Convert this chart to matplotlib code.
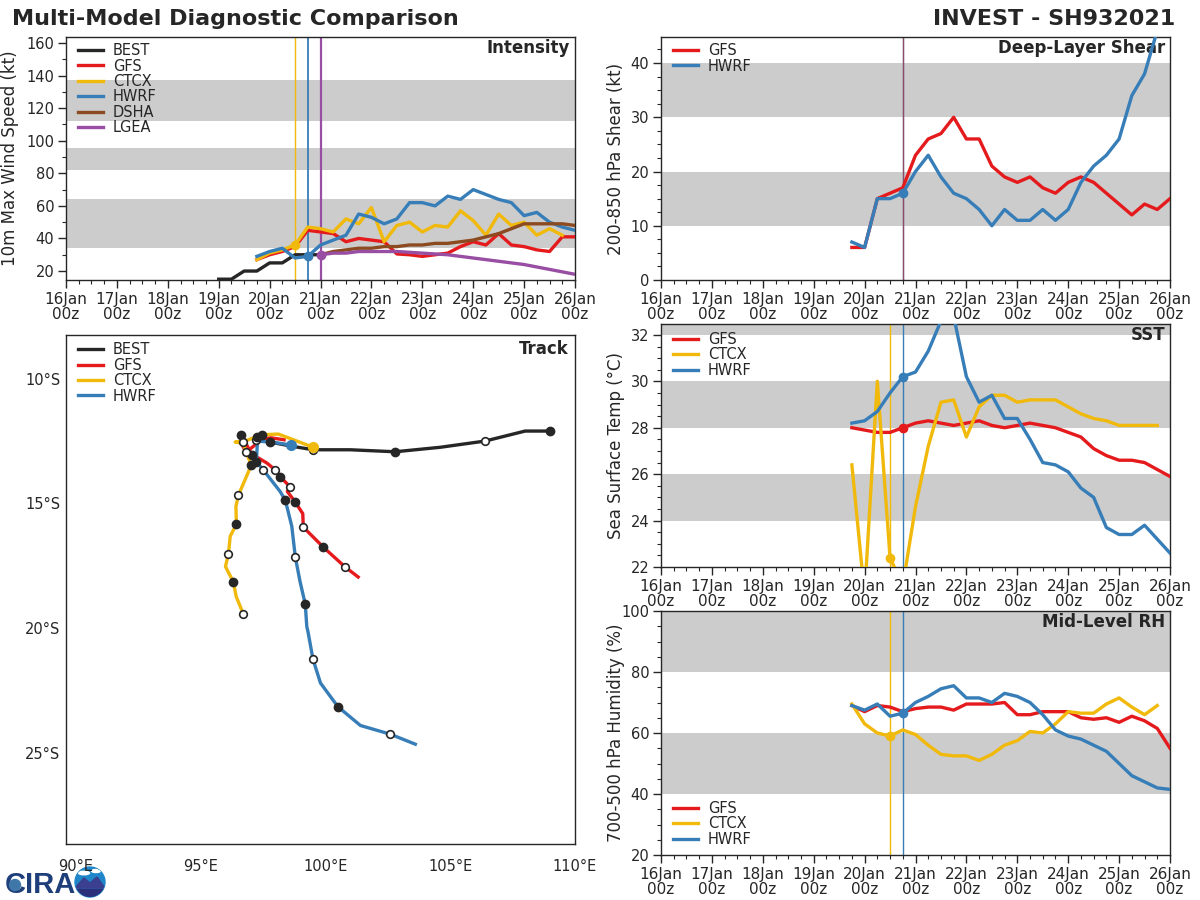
#!/usr/bin/python3
import matplotlib
matplotlib.use('Agg')
import matplotlib.pyplot as plt
from matplotlib.patches import Circle, Ellipse, Polygon
import numpy as np

RED = '#e41a1c'
YELLOW = '#f0b90b'
BLUE = '#377eb8'
BLACK = '#262626'
BROWN = '#8c4a20'
PURPLE = '#984ea3'
GREY = '#cccccc'
TICK = '#262626'

# intensity, kt, every 6 hours
best_vmax = [15, 15, 20, 20, 25, 25, 30, 30, 30]
gfs_vmax = [27, 30, 32, 35, 45, 44, 43, 38, 40, 39, 38, 30.5, 30, 29, 30, 31, 35, 38, 36, 43, 36, 35, 33, 32, 41, 41]
ctcx_vmax = [27, 31, 33, 36, 47, 46, 44, 52, 49, 59, 38, 48, 50, 44, 48, 47, 57, 51, 42, 55, 48, 50, 42, 46, 42]
hwrf_vmax = [29, 32, 34, 28, 29, 36, 39, 42, 55, 53, 49, 52, 62, 62, 60, 66, 64, 70, 67, 64, 62, 54, 56, 50, 47, 45]
dsha_vmax = [30, 32, 33, 34, 34, 35, 35, 36, 36, 37, 37, 38, 39, 41, 43, 46, 49, 49, 49, 49, 48]
lgea_vmax = [30, 31, 31, 32, 32, 32, 32, 31.5, 31, 30.5, 30, 29, 28, 27, 26, 25, 24, 22.5, 21, 19.5, 18]

# deep-layer shear, kt
gfs_shear = [6, 6, 15, 16, 17, 23, 26, 27, 30, 26, 26, 21, 19, 18, 19, 17, 16, 18, 19, 18, 16, 14, 12, 14, 13, 15]
hwrf_shear = [7, 6, 15, 15, 16, 20, 23, 19, 16, 15, 13, 10, 13, 11, 11, 13, 11, 13, 18, 21, 23, 26, 34, 38, 46, 55]

# sst, deg C
gfs_sst = [28.0, 27.9, 27.8, 27.8, 28.0, 28.2, 28.3, 28.2, 28.1, 28.2, 28.3, 28.1, 28.0, 28.1, 28.2, 28.1, 28.0, 27.8, 27.6, 27.1, 26.8, 26.6, 26.6, 26.5, 26.2, 25.9]
ctcx_sst = [26.4, 20.8, 30.0, 22.4, 21.2, 24.6, 27.2, 29.1, 29.2, 27.6, 28.9, 29.4, 29.4, 29.1, 29.2, 29.2, 29.2, 28.9, 28.6, 28.4, 28.3, 28.1, 28.1, 28.1, 28.1]
hwrf_sst = [28.2, 28.3, 28.7, 29.5, 30.2, 30.4, 31.3, 32.6, 32.8, 30.2, 29.1, 29.4, 28.4, 28.4, 27.5, 26.5, 26.4, 26.1, 25.4, 25.0, 23.7, 23.4, 23.4, 23.8, 23.2, 22.6]

# mid-level rh, %
gfs_rh = [69, 67, 69, 68.5, 67, 68, 68.5, 68.5, 67.5, 69.5, 69.5, 69.5, 70, 66, 66, 67, 67, 67, 65, 64.5, 65, 63.5, 65.5, 64, 61.5, 55]
ctcx_rh = [69.5, 63, 60, 59, 61, 59.5, 56, 53, 52.5, 52.5, 51, 53, 56, 57.5, 60.5, 60, 63, 67, 66.5, 66.5, 69.5, 71.5, 68.5, 66, 69]
hwrf_rh = [69, 67.5, 69.5, 65.5, 66.5, 70, 72, 74.5, 75.5, 71.5, 71.5, 70, 73, 72, 70, 66, 61, 59, 58, 56, 54, 50, 46, 44, 42, 41.5]

# tracks, with the positions in the path that carry an open or a filled dot
best_lon = [109.0, 108.0, 106.4, 104.6, 102.79, 101.0, 99.51, 98.6, 97.78]
best_lat = [-12.1, -12.1, -12.5, -12.75, -12.93, -12.85, -12.85, -12.7, -12.54]
best_open = [2, 6]
best_filled = [0, 4, 8]

gfs_lon = [98.34, 97.81, 97.23, 97.19, 96.82, 96.69, 96.71, 96.63, 97.05, 97.31, 97.65, 97.99, 98.19, 98.59, 98.47, 98.79, 99.09, 99.11, 99.91, 100.25, 100.79, 101.31]
gfs_lat = [-12.45, -12.37, -12.46, -12.65, -12.94, -12.71, -12.54, -12.25, -13.05, -13.18, -13.38, -13.66, -13.94, -14.34, -14.52, -14.95, -15.41, -15.95, -16.75, -17.06, -17.55, -17.95]
gfs_open = [2, 4, 6, 11, 13, 17, 20]
gfs_filled = [7, 8, 12, 15, 18]

ctcx_lon = [99.51, 98.11, 97.45, 96.85, 96.38, 96.71, 96.82, 96.95, 97.03, 96.51, 96.41, 96.43, 96.18, 96.11, 95.99, 96.31, 96.42, 96.71]
ctcx_lat = [-12.75, -12.22, -12.25, -12.47, -12.54, -12.6, -12.94, -13.27, -13.46, -14.67, -15.12, -15.83, -16.32, -17.03, -17.53, -18.15, -18.73, -19.44]
ctcx_open = [9, 13, 17]
ctcx_filled = [2, 8, 11, 15]

hwrf_lon = [98.61, 97.91, 97.38, 97.25, 97.27, 97.23, 97.51, 98.18, 98.39, 98.65, 98.79, 98.98, 99.19, 99.25, 99.3, 99.5, 99.8, 100.5, 101.4, 102.6, 103.6]
hwrf_lat = [-12.66, -12.55, -12.51, -12.34, -12.58, -13.33, -13.66, -14.52, -14.87, -15.92, -17.15, -18.13, -19.04, -19.93, -20.15, -21.25, -22.2, -23.15, -23.9, -24.25, -24.65]
hwrf_open = [6, 10, 15, 19]
hwrf_filled = [3, 5, 8, 12, 17]

day_labels = ['16Jan\n00z', '17Jan\n00z', '18Jan\n00z', '19Jan\n00z', '20Jan\n00z', '21Jan\n00z',
              '22Jan\n00z', '23Jan\n00z', '24Jan\n00z', '25Jan\n00z', '26Jan\n00z']
lon_ticks = [90, 95, 100, 105, 110]
lon_labels = ['90°E', '95°E', '100°E', '105°E', '110°E']
lat_ticks = [-10, -15, -20, -25]
lat_labels = ['10°S', '15°S', '20°S', '25°S']

LW = 2.4


def times(values, start):
    # days since 16Jan 00z, one value every 6 hours
    return start + 0.25 * np.arange(len(values))


def add_axes(fig, left, top, right, bottom):
    ax = fig.add_axes([left / 1200, 1 - bottom / 900, (right - left) / 1200, (bottom - top) / 900])
    for s in ax.spines.values():
        s.set_color(TICK)
        s.set_linewidth(1.0)
    return ax


def setup_time_axis(ax, ylim, yticks, yminor, ylabel, label_x, bands, title):
    for lo, hi in bands:
        ax.axhspan(lo, hi, color=GREY, lw=0, zorder=0)
    ax.set_xlim(0, 10)
    ax.set_ylim(*ylim)
    ax.set_xticks(range(11))
    ax.set_xticklabels(day_labels, linespacing=1.0, fontsize=11)
    ax.set_xticks(np.arange(0, 10.01, 0.25), minor=True)
    ax.set_yticks(yticks)
    ax.set_yticks(yminor, minor=True)
    ax.tick_params(which='major', length=5.5, width=1, colors=TICK, pad=3)
    ax.tick_params(axis='y', which='major', labelsize=10.5)
    ax.tick_params(which='minor', length=3, width=0.8, colors=TICK)
    ax.set_ylabel(ylabel, fontsize=12, color=TICK)
    ax.yaxis.set_label_coords(label_x, 0.5)
    ax.text(0.9905, 0.992, title, transform=ax.transAxes, ha='right', va='top',
            fontsize=12, fontweight='bold', color=TICK)


def add_legend(ax, loc='upper left', anchor=(0.0092, 1.005), handles=None, labels=None):
    kw = dict(loc=loc, bbox_to_anchor=anchor, frameon=False, fontsize=10.5, handlelength=1.7,
              handletextpad=0.7, labelspacing=0.03, borderpad=0.0, labelcolor=TICK)
    if handles is None:
        ax.legend(**kw)
    else:
        ax.legend(handles, labels, **kw)


def draw_series(ax, series):
    # series: label, values, start day, colour, day of the analysis dot
    for label, values, start, color, mark in series:
        x = times(values, start)
        ax.plot(x, values, color=color, lw=LW, label=label, zorder=3, solid_joinstyle='round')
        if mark is not None:
            i = int(round((mark - start) / 0.25))
            ax.plot(x[i], values[i], 'o', color=color, ms=6, zorder=4)


def draw_track(ax, lon, lat, color, label, open_i, filled_i):
    lon = np.array(lon)
    lat = np.array(lat)
    ax.plot(lon, lat, color=color, lw=LW, label=label, zorder=3)
    ax.plot(lon[filled_i], lat[filled_i], 'o', color=BLACK, ms=6, zorder=5)
    ax.plot(lon[open_i], lat[open_i], 'o', mfc='white', mec=BLACK, mew=1.2, ms=5.5, zorder=5)


fig = plt.figure(figsize=(12, 9), dpi=100)

fig.text(12 / 1200, 1 - 19 / 900, 'Multi-Model Diagnostic Comparison', fontsize=16, fontweight='bold',
         color=TICK, ha='left', va='center')
fig.text(1175 / 1200, 1 - 19 / 900, 'INVEST - SH932021', fontsize=16, fontweight='bold',
         color=TICK, ha='right', va='center')

# intensity
ax = add_axes(fig, 66, 37, 575, 280)
setup_time_axis(ax, (14.5, 163.7), range(20, 161, 20), np.arange(20, 161, 10), '10m Max Wind Speed (kt)', -0.092,
                [(34, 64.5), (82, 95.5), (112, 137)], 'Intensity')
ax.axvline(4.5, color=YELLOW, lw=1, zorder=2)
ax.axvline(4.75, color=BLUE, lw=1.3, zorder=2)
ax.axvline(5.0, color=PURPLE, lw=1.6, zorder=2)
draw_series(ax, [('BEST', best_vmax, 3.0, BLACK, None),
                 ('GFS', gfs_vmax, 3.75, RED, None),
                 ('CTCX', ctcx_vmax, 3.75, YELLOW, 4.5),
                 ('HWRF', hwrf_vmax, 3.75, BLUE, 4.75),
                 ('DSHA', dsha_vmax, 5.0, BROWN, None),
                 ('LGEA', lgea_vmax, 5.0, PURPLE, 5.0)])
add_legend(ax)

# shear
ax = add_axes(fig, 661, 37, 1170, 280)
setup_time_axis(ax, (0, 44.8), range(0, 41, 10), np.arange(0, 45, 2.5), '200-850 hPa Shear (kt)', -0.071,
                [(10, 20), (30, 40)], 'Deep-Layer Shear')
ax.axvline(4.75, color=BLUE, lw=1, zorder=2)
ax.axvline(4.75, color=RED, lw=1, alpha=0.5, zorder=2)
draw_series(ax, [('GFS', gfs_shear, 3.75, RED, None),
                 ('HWRF', hwrf_shear, 3.75, BLUE, 4.75)])
add_legend(ax)

# sst
ax = add_axes(fig, 661, 324, 1170, 567)
setup_time_axis(ax, (22, 32.47), range(22, 33, 2), np.arange(22, 32.5, 0.5), 'Sea Surface Temp (°C)', -0.071,
                [(24, 26), (28, 30), (32, 33)], 'SST')
ax.axvline(4.5, color=YELLOW, lw=1, zorder=2)
ax.axvline(4.75, color=BLUE, lw=1, zorder=2)
draw_series(ax, [('GFS', gfs_sst, 3.75, RED, 4.75),
                 ('CTCX', ctcx_sst, 3.75, YELLOW, 4.5),
                 ('HWRF', hwrf_sst, 3.75, BLUE, 4.75)])
add_legend(ax, anchor=(0.0092, 0.997))

# rh
ax = add_axes(fig, 661, 611, 1170, 855)
setup_time_axis(ax, (20, 100), range(20, 101, 20), np.arange(20, 100, 5), '700-500 hPa Humidity (%)', -0.071,
                [(40, 60), (80, 100)], 'Mid-Level RH')
ax.axvline(4.5, color=YELLOW, lw=1, zorder=2)
ax.axvline(4.75, color=BLUE, lw=1, zorder=2)
draw_series(ax, [('GFS', gfs_rh, 3.75, RED, None),
                 ('CTCX', ctcx_rh, 3.75, YELLOW, 4.5),
                 ('HWRF', hwrf_rh, 3.75, BLUE, 4.75)])
add_legend(ax, loc='lower left', anchor=(0.0092, 0.004))

# track
ax = add_axes(fig, 66, 335, 575, 844)
draw_track(ax, best_lon, best_lat, BLACK, 'BEST', best_open, best_filled)
draw_track(ax, gfs_lon, gfs_lat, RED, 'GFS', gfs_open, gfs_filled)
draw_track(ax, hwrf_lon, hwrf_lat, BLUE, 'HWRF', hwrf_open, hwrf_filled)
draw_track(ax, ctcx_lon, ctcx_lat, YELLOW, 'CTCX', ctcx_open, ctcx_filled)
ax.plot(hwrf_lon[0], hwrf_lat[0], 'o', color=BLUE, ms=7, zorder=6)
ax.plot(ctcx_lon[0], ctcx_lat[0], 'o', color=YELLOW, ms=7, zorder=6)
ax.set_xlim(89.6, 110)
ax.set_ylim(-28.65, -8.25)
ax.set_xticks(lon_ticks)
ax.set_xticklabels(lon_labels)
ax.set_yticks(lat_ticks)
ax.set_yticklabels(lat_labels)
ax.tick_params(axis='x', length=0, labelsize=10.5, colors=TICK, pad=11)
ax.tick_params(axis='y', length=0, labelsize=10.5, colors=TICK, pad=4)
ax.text(0.9865, 0.991, 'Track', transform=ax.transAxes, ha='right', va='top',
        fontsize=12, fontweight='bold', color=TICK)
handles, labels = ax.get_legend_handles_labels()
order = [labels.index(n) for n in ['BEST', 'GFS', 'CTCX', 'HWRF']]
add_legend(ax, handles=[handles[i] for i in order], labels=[labels[i] for i in order],
           anchor=(0.0092, 1.0))

# logo, roughly
logo = fig.add_axes([0, 0, 120 / 1200, 50 / 900])
logo.set_zorder(-1)
logo.set_xlim(0, 120)
logo.set_ylim(0, 50)
logo.axis('off')
logo.text(5, 1, 'CIRA', fontsize=21, fontweight='bold', color='#1f3f7a', ha='left', va='bottom',
          family=['Liberation Sans Narrow', 'Liberation Sans'])
logo.add_patch(Circle((15, 15), 5.5, color='#3f78a8', zorder=3))
disc = Circle((90, 18), 15, color='#1f86c9')
logo.add_patch(disc)
for shape in [Polygon([[75, 12], [84, 22], [90, 17], [97, 23], [105, 12]], color='#3a3f8f'),
              Polygon([[75, 11], [105, 11], [105, 3], [75, 3]], color='#2c2f7a'),
              Ellipse((84, 27), 11, 3.5, color='white'),
              Ellipse((96, 29), 9, 3, color='white')]:
    logo.add_patch(shape)
    shape.set_clip_path(disc)

fig.savefig('out.png', dpi=100)
